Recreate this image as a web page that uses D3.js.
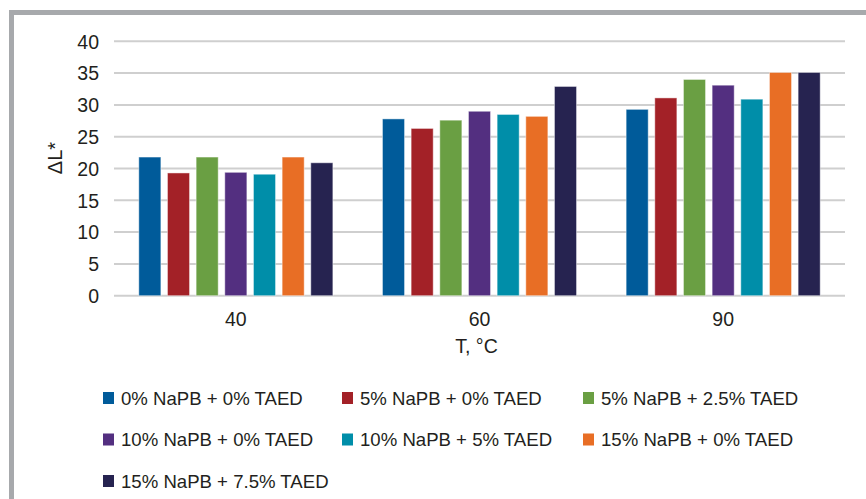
<!DOCTYPE html>
<html>
<head>
<meta charset="utf-8">
<script src="https://cdn.jsdelivr.net/npm/d3@7"></script>
<style>
  html, body { margin: 0; padding: 0; background: #fff; }
  svg { display: block; font-family: "Liberation Sans", Arial, sans-serif; }
</style>
</head>
<body>
<svg id="chart" width="866" height="499"></svg>
<script>
const categories = ["40", "60", "90"];
const seriesNames = [
  "0% NaPB + 0% TAED",
  "5% NaPB + 0% TAED",
  "5% NaPB + 2.5% TAED",
  "10% NaPB + 0% TAED",
  "10% NaPB + 5% TAED",
  "15% NaPB + 0% TAED",
  "15% NaPB + 7.5% TAED"
];
const seriesColors = ["#005b9a", "#a32127", "#6a9f43", "#532f80", "#008ea9", "#e86e25", "#262350"];
// values per series, ordered by categories 40, 60, 90
const s0 = [21.8, 27.8, 29.3];
const s1 = [19.3, 26.3, 31.1];
const s2 = [21.8, 27.6, 34.0];
const s3 = [19.4, 29.0, 33.1];
const s4 = [19.1, 28.5, 30.9];
const s5 = [21.8, 28.2, 35.1];
const s6 = [20.9, 32.9, 35.1];
const seriesValues = [s0, s1, s2, s3, s4, s5, s6];
const yTicks = [0, 5, 10, 15, 20, 25, 30, 35, 40];
const yLabel = "ΔL*";
const xLabel = "T, °C";

const svg = d3.select("#chart");

// frame
svg.append("rect").attr("x", 9).attr("y", 10).attr("width", 857).attr("height", 5).attr("fill", "#a7a9ac");
svg.append("rect").attr("x", 9).attr("y", 10).attr("width", 5).attr("height", 489).attr("fill", "#a7a9ac");

const plotLeft = 114, plotRight = 845, plotTop = 41.3, plotBottom = 295.7;
const y = d3.scaleLinear().domain([0, 40]).range([plotBottom, plotTop]);
const x0 = d3.scaleBand().domain(categories).range([plotLeft, plotRight]).padding(0);
const x1 = d3.scaleBand().domain(d3.range(seriesNames.length))
  .range([24.8, x0.bandwidth() - 24.8]).paddingInner(0.23).paddingOuter(0);

// gridlines
svg.append("g").selectAll("line").data(yTicks).join("line")
  .attr("x1", plotLeft).attr("x2", plotRight)
  .attr("y1", d => y(d)).attr("y2", d => y(d))
  .attr("stroke", "#cfcfcf").attr("stroke-width", 2);

// y axis labels
const yAxis = d3.axisLeft(y).tickValues(yTicks).tickSize(0).tickPadding(0);
const gy = svg.append("g").attr("transform", `translate(${plotLeft - 15},0)`).call(yAxis);
gy.select(".domain").remove();
gy.selectAll("text").attr("font-size", 19.5).attr("fill", "#231f20")
  .attr("font-family", "Liberation Sans, Arial, sans-serif").attr("dy", "0.35em");

// bars
const groups = svg.append("g").selectAll("g").data(categories).join("g")
  .attr("transform", d => `translate(${x0(d)},0)`);
groups.selectAll("rect")
  .data((c, ci) => seriesValues.map((vals, si) => ({ si, v: vals[ci] })))
  .join("rect")
  .attr("x", d => x1(d.si))
  .attr("width", x1.bandwidth())
  .attr("y", d => y(d.v))
  .attr("height", d => y(0) - y(d.v))
  .attr("fill", d => seriesColors[d.si])
  .attr("stroke", "#ffffff").attr("stroke-opacity", 0.45).attr("stroke-width", 1);

// x axis labels
const xAxis = d3.axisBottom(x0).tickSize(0).tickPadding(0);
const gx = svg.append("g").attr("transform", `translate(0,${plotBottom})`).call(xAxis);
gx.select(".domain").remove();
gx.selectAll("text").attr("font-size", 19.5).attr("fill", "#231f20")
  .attr("font-family", "Liberation Sans, Arial, sans-serif").attr("y", 30).attr("dy", 0);

svg.append("text").attr("x", (plotLeft + plotRight) / 2 - 3).attr("y", 353)
  .attr("text-anchor", "middle").attr("font-size", 19.5).attr("fill", "#231f20").text(xLabel);

svg.append("text").attr("transform", "translate(62,158) rotate(-90)")
  .attr("text-anchor", "middle").attr("font-size", 20).attr("fill", "#231f20").text(yLabel);

// legend
const colX = [103, 342, 583];
const rowY = [398, 439.5, 481];
const leg = svg.append("g").selectAll("g").data(seriesNames).join("g")
  .attr("transform", (d, i) => `translate(${colX[i % 3]},${rowY[Math.floor(i / 3)]})`);
leg.append("rect").attr("x", 0).attr("y", -6).attr("width", 11).attr("height", 12)
  .attr("fill", (d, i) => seriesColors[i]);
leg.append("text").attr("x", 18).attr("y", 0).attr("dy", "0.36em")
  .attr("font-size", 18.6).attr("fill", "#231f20").text(d => d);
</script>
</body>
</html>
